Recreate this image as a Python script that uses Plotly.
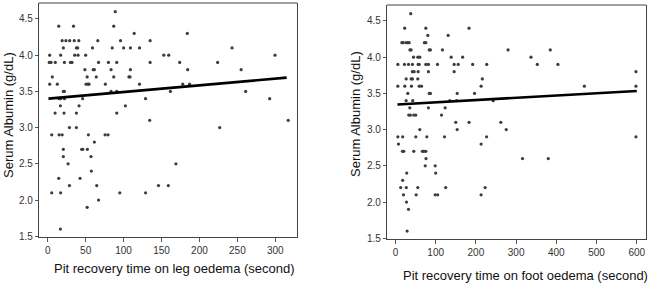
import plotly.graph_objects as go

# ---- Left panel: leg oedema ----
leg_x = [89, 14.5, 34, 87, 114, 184,
         19, 24, 29, 35, 41, 66, 96, 135,
         20.6, 37.8, 39.5, 59, 85, 100, 109, 121, 243,
         2.6, 17, 35.6, 40, 50, 153, 159.5, 299.6,
         2, 4.4, 10, 22, 30, 32, 67, 80, 91, 135, 174, 224,
         49, 60, 61.5, 83.5, 109, 184.5, 255,
         6, 52, 64, 87, 107, 108.5,
         2.6, 12.7, 50.5, 53, 54.5, 76, 121, 178, 187,
         20.6, 22, 83.5, 91, 161.7, 261,
         15, 17, 22, 46, 129, 292.6,
         16.7, 41.3, 102.4,
         9.7, 21.5, 37.8, 91,
         134.4, 317,
         28.6, 37.8, 226.7,
         5.3, 15, 19, 53.6, 75.6, 79.5,
         61.5,
         20.6, 44.8, 46.2, 52.3,
         20.6, 57,
         26.8, 169,
         57.5,
         14.5, 42.6,
         28.6, 64.6, 146, 159,
         5.3, 17, 95, 129,
         67,
         52,
         16.7]
leg_y = [4.6, 4.4, 4.4, 4.4, 4.3, 4.3,
         4.2, 4.2, 4.2, 4.2, 4.2, 4.2, 4.2, 4.2,
         4.1, 4.1, 4.1, 4.1, 4.1, 4.1, 4.1, 4.1, 4.1,
         4.0, 4.0, 4.0, 4.0, 4.0, 4.0, 4.0, 4.0,
         3.9, 3.9, 3.9, 3.9, 3.9, 3.9, 3.9, 3.9, 3.9, 3.9, 3.9, 3.9,
         3.8, 3.8, 3.8, 3.8, 3.8, 3.8, 3.8,
         3.7, 3.7, 3.7, 3.7, 3.7, 3.7,
         3.6, 3.6, 3.6, 3.6, 3.6, 3.6, 3.6, 3.6, 3.6,
         3.5, 3.5, 3.5, 3.5, 3.5, 3.5,
         3.4, 3.4, 3.4, 3.4, 3.4, 3.4,
         3.3, 3.3, 3.3,
         3.2, 3.2, 3.2, 3.2,
         3.1, 3.1,
         3.0, 3.0, 3.0,
         2.9, 2.9, 2.9, 2.9, 2.9, 2.9,
         2.8,
         2.7, 2.7, 2.7, 2.7,
         2.6, 2.6,
         2.5, 2.5,
         2.4,
         2.3, 2.3,
         2.2, 2.2, 2.2, 2.2,
         2.1, 2.1, 2.1, 2.1,
         2.0,
         1.9,
         1.6]
leg_fit_x = [1, 315]
leg_fit_y = [3.40, 3.69]

# ---- Right panel: foot oedema ----
foot_x = [38,
          23, 75.5, 183,
          80.5, 131,
          16, 19.5, 27, 30.5, 34, 72, 75.5,
          36, 39, 84, 87, 117, 280, 385,
          45, 55.6, 60.6, 138.6, 167, 337,
          6, 22.4, 32.4, 42.3, 56.4, 59, 75.5, 82, 104.6, 146, 156, 192, 227, 352.7, 404,
          42, 46.5, 56.4, 82, 146, 598,
          26.6, 39, 42.3, 55.6, 216,
          6, 23.2, 39.8, 59, 64.7, 213, 469.7, 598,
          30.7, 84, 87, 153.5, 196.7,
          26.6, 43, 135, 152, 243,
          35.7, 82, 123.6,
          33, 37.3, 45.6, 50.6, 114.5,
          150, 183, 262,
          60.6, 153.5, 275.5,
          6, 18, 50.6, 78, 122, 226.6, 598,
          7.5, 213,
          17.4, 20.7, 45.6, 67, 70.5, 75.5,
          76, 316, 380,
          74, 98.8,
          28, 100,
          18,
          13, 27, 55.6, 125, 223,
          20, 51.5, 98.8, 105, 213,
          27.4,
          32.4,
          29]
foot_y = [4.6,
          4.4, 4.4, 4.4,
          4.3, 4.3,
          4.2, 4.2, 4.2, 4.2, 4.2, 4.2, 4.2,
          4.1, 4.1, 4.1, 4.1, 4.1, 4.1, 4.1,
          4.0, 4.0, 4.0, 4.0, 4.0, 4.0,
          3.9, 3.9, 3.9, 3.9, 3.9, 3.9, 3.9, 3.9, 3.9, 3.9, 3.9, 3.9, 3.9, 3.9, 3.9,
          3.8, 3.8, 3.8, 3.8, 3.8, 3.8,
          3.7, 3.7, 3.7, 3.7, 3.7,
          3.6, 3.6, 3.6, 3.6, 3.6, 3.6, 3.6, 3.6,
          3.5, 3.5, 3.5, 3.5, 3.5,
          3.4, 3.4, 3.4, 3.4, 3.4,
          3.3, 3.3, 3.3,
          3.2, 3.2, 3.2, 3.2, 3.2,
          3.1, 3.1, 3.1,
          3.0, 3.0, 3.0,
          2.9, 2.9, 2.9, 2.9, 2.9, 2.9, 2.9,
          2.8, 2.8,
          2.7, 2.7, 2.7, 2.7, 2.7, 2.7,
          2.6, 2.6, 2.6,
          2.5, 2.5,
          2.4, 2.4,
          2.3,
          2.2, 2.2, 2.2, 2.2, 2.2,
          2.1, 2.1, 2.1, 2.1, 2.1,
          2.0,
          1.9,
          1.6]
foot_fit_x = [5, 600]
foot_fit_y = [3.346, 3.533]

y_ticks = [1.5, 2.0, 2.5, 3.0, 3.5, 4.0, 4.5]
leg_ticks = [0, 50, 100, 150, 200, 250, 300]
foot_ticks = [0, 100, 200, 300, 400, 500, 600]

W, H = 650, 284
FONT = "Arial, 'Liberation Sans', sans-serif"
DOT = "#3c3c3c"

fig = go.Figure()
fig.add_trace(go.Scatter(x=leg_x, y=leg_y, mode="markers", xaxis="x", yaxis="y",
                         marker=dict(size=3.2, color=DOT), showlegend=False))
fig.add_trace(go.Scatter(x=leg_fit_x, y=leg_fit_y, mode="lines", xaxis="x", yaxis="y",
                         line=dict(color="black", width=2.6), showlegend=False))
fig.add_trace(go.Scatter(x=foot_x, y=foot_y, mode="markers", xaxis="x2", yaxis="y2",
                         marker=dict(size=3.2, color=DOT), showlegend=False))
fig.add_trace(go.Scatter(x=foot_fit_x, y=foot_fit_y, mode="lines", xaxis="x2", yaxis="y2",
                         line=dict(color="black", width=2.6), showlegend=False))

def px_x(p):
    return p / W

def px_y(p):
    return 1 - p / H

tickfont = dict(family=FONT, size=10, color="#333333")
common_x = dict(showgrid=False, zeroline=False, showline=True, linecolor="#444444", linewidth=1.3,
                ticks="outside", ticklen=4, tickcolor="#555555", tickwidth=1, tickfont=tickfont,
                mirror=False, automargin=False)
common_y = dict(showgrid=False, zeroline=False, showline=True, linecolor="#444444", linewidth=1.3,
                ticks="outside", ticklen=3, tickcolor="#555555", tickwidth=1, tickfont=tickfont,
                tickvals=y_ticks, ticktext=[f"{v:.1f}" for v in y_ticks], mirror=True,
                automargin=False)

fig.update_layout(
    width=W, height=H, margin=dict(l=0, r=0, t=0, b=0, pad=0, autoexpand=False),
    paper_bgcolor="white", plot_bgcolor="white",
    font=dict(family=FONT, color="#222222"),
    xaxis=dict(domain=[px_x(39), px_x(297)], range=[-11.5, 328.6], tickvals=leg_ticks,
               anchor="y", **common_x),
    yaxis=dict(domain=[px_y(237), px_y(3)], range=[1.49, 4.72], anchor="x", **common_y),
    xaxis2=dict(domain=[px_x(387), px_x(646)], range=[-21, 623], tickvals=foot_ticks,
                anchor="y2", **common_x),
    yaxis2=dict(domain=[px_y(239), px_y(5)], range=[1.49, 4.72], anchor="x2", **common_y),
)

# gray top borders
for xa, ya in [("x", "y"), ("x2", "y2")]:
    fig.add_shape(type="line", xref=f"{xa} domain", yref=f"{ya} domain", x0=0, x1=1, y0=1, y1=1,
                  line=dict(color="#a0a0a0", width=2))

title_font = dict(family=FONT, size=13, color="#111111")
ann = dict(xref="paper", yref="paper", showarrow=False, font=title_font,
           xanchor="center", yanchor="middle")
fig.add_annotation(text="Pit recovery time on leg oedema (second)", x=px_x(174), y=px_y(268), **ann)
fig.add_annotation(text="Pit recovery time on foot oedema (second)", x=px_x(525), y=px_y(275), **ann)
fig.add_annotation(text="Serum Albumin (g/dL)", x=px_x(8), y=px_y(115), textangle=-90, **ann)
fig.add_annotation(text="Serum Albumin (g/dL)", x=px_x(355), y=px_y(114), textangle=-90, **ann)

fig.write_html("out.html", config={"displayModeBar": False},
               post_script="document.body.style.margin='0';document.body.style.overflow='hidden';")
